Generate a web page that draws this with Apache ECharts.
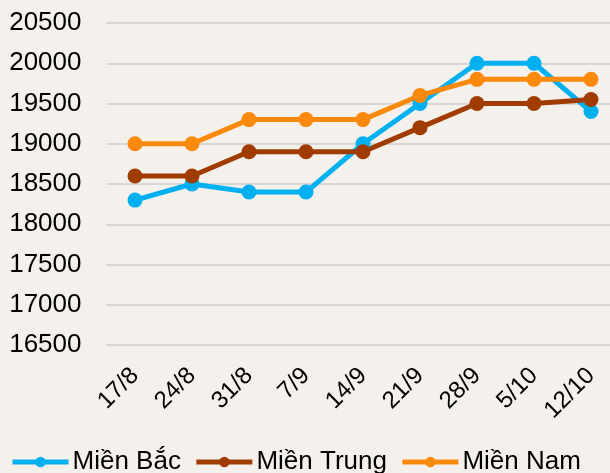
<!DOCTYPE html>
<html>
<head>
<meta charset="utf-8">
<script src="https://cdn.jsdelivr.net/npm/echarts@6/dist/echarts.min.js"></script>
<style>
  html, body { margin: 0; padding: 0; background: #f4f0eb; }
  #chart { width: 610px; height: 473px; }
</style>
</head>
<body>
<div id="chart"></div>
<script>
const weeks = ['17/8', '24/8', '31/8', '7/9', '14/9', '21/9', '28/9', '5/10', '12/10'];
const mienBac = [18300, 18500, 18400, 18400, 19000, 19500, 20000, 20000, 19400];
const mienTrung = [18600, 18600, 18900, 18900, 18900, 19200, 19500, 19500, 19550];
const mienNam = [19000, 19000, 19300, 19300, 19300, 19600, 19800, 19800, 19800];

const chart = echarts.init(document.getElementById('chart'));

const makeSeries = (name, data, color) => ({
  name: name,
  type: 'line',
  data: data,
  symbol: 'circle',
  symbolSize: 15,
  itemStyle: { color: color },
  lineStyle: { width: 5, color: color },
  emphasis: { disabled: true }
});

chart.setOption({
  backgroundColor: '#f4f0eb',
  textStyle: { fontFamily: 'Liberation Sans, Arial, sans-serif' },
  animation: false,
  grid: { left: 106.5, right: -9.5, top: 23, bottom: 128, outerBoundsMode: 'none', containLabel: false },
  legend: {
    left: 5,
    top: 444,
    itemWidth: 56,
    itemHeight: 13,
    itemGap: 13,
    lineStyle: { width: 5 },
    textStyle: { fontSize: 26, color: '#000', padding: [0, 0, 0, -1] },
    data: ['Miền Bắc', 'Miền Trung', 'Miền Nam']
  },
  xAxis: {
    type: 'category',
    data: weeks,
    boundaryGap: true,
    axisLine: { show: false },
    axisTick: { show: false },
    axisLabel: { rotate: 45, fontSize: 24, color: '#000', margin: 27, interval: 0 }
  },
  yAxis: {
    type: 'value',
    min: 16500,
    max: 20500,
    interval: 500,
    axisLine: { show: false },
    axisTick: { show: false },
    axisLabel: { fontSize: 26, color: '#000', margin: 25, formatter: (v) => String(v) },
    splitLine: { lineStyle: { color: '#d9d7d5', width: 2 } }
  },
  series: [
    makeSeries('Miền Bắc', mienBac, '#00b0f0'),
    makeSeries('Miền Trung', mienTrung, '#a03c00'),
    makeSeries('Miền Nam', mienNam, '#fb8a0c')
  ]
});
</script>
</body>
</html>
